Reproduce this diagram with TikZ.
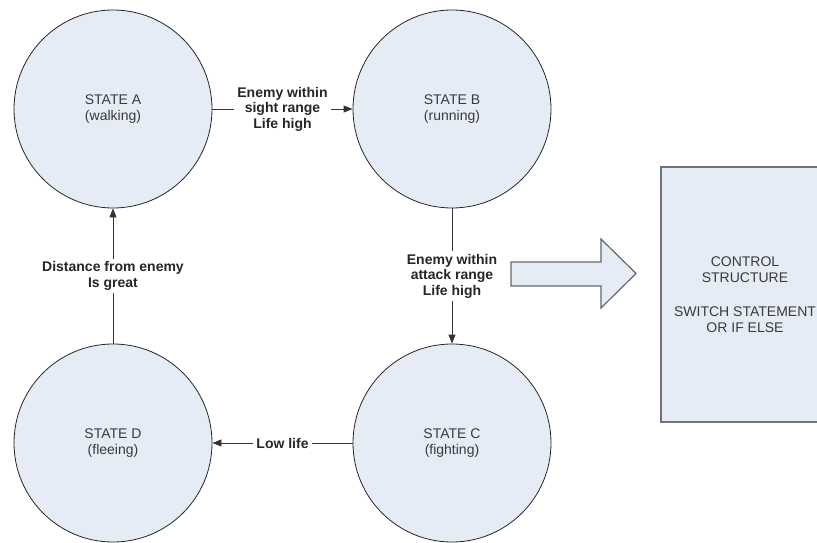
\documentclass[tikz,border=0pt]{standalone}
\usepackage{fontspec}
\setmainfont{Liberation Sans}
\usetikzlibrary{arrows.meta}
\definecolor{statefill}{HTML}{E6ECF6}
\definecolor{textgray}{HTML}{3A3A3A}
\tikzset{
% Circles for the states, plus the labels and arrows of the transitions
state node/.style={circle,draw=black!85,line width=0.8pt,fill=statefill,minimum size=198pt,inner sep=0pt,align=center,text=textgray},
trans label/.style={fill=white,inner sep=3pt,align=center,font=\fontsize{14}{15.5}\selectfont\bfseries,text=black!85},
trans/.style={draw=black!80,line width=0.8pt,-{Triangle[length=9pt,width=7pt]}}
}

\begin{document}
\begin{tikzpicture}[x=1pt,y=1pt,font=\fontsize{14}{16.5}\selectfont]
      \clip (0,0) rectangle (817,542);
      % The four states
      \node(A)[state node] at (113,433) {STATE A\\(walking)};
      \node(B)[state node] at (452,433) {STATE B\\(running)};
      \node(C)[state node] at (452,99) {STATE C\\(fighting)};
      \node(D)[state node] at (113,99) {STATE D\\(fleeing)};
      % Transitions
      \draw[trans] (A) -- node[trans label]{Enemy within\\sight range\\Life high} (B);
      \draw[trans] (B) -- node[trans label]{Enemy within\\attack range\\Life high} (C);
      \draw[trans] (C) -- node[trans label]{Low life} (D);
      \draw[trans] (D) -- node[trans label]{Distance from enemy\\Is great} (A);
      % Block arrow towards the control structure
      \draw[draw=black!60,line width=1.2pt,fill=statefill] (511,280) -- (601,280) -- (601,303)
        -- (636,268.5) -- (601,234) -- (601,256) -- (511,256) -- cycle;
      % Control structure box (runs past the right edge)
      \node(ctrl)[draw=black!55,line width=1.8pt,fill=statefill,minimum width=168pt,
        minimum height=255pt,align=center,text=textgray] at (745,247.5)
        {CONTROL\\STRUCTURE\\[17pt]SWITCH STATEMENT\\OR IF ELSE};
\end{tikzpicture}
\end{document}
